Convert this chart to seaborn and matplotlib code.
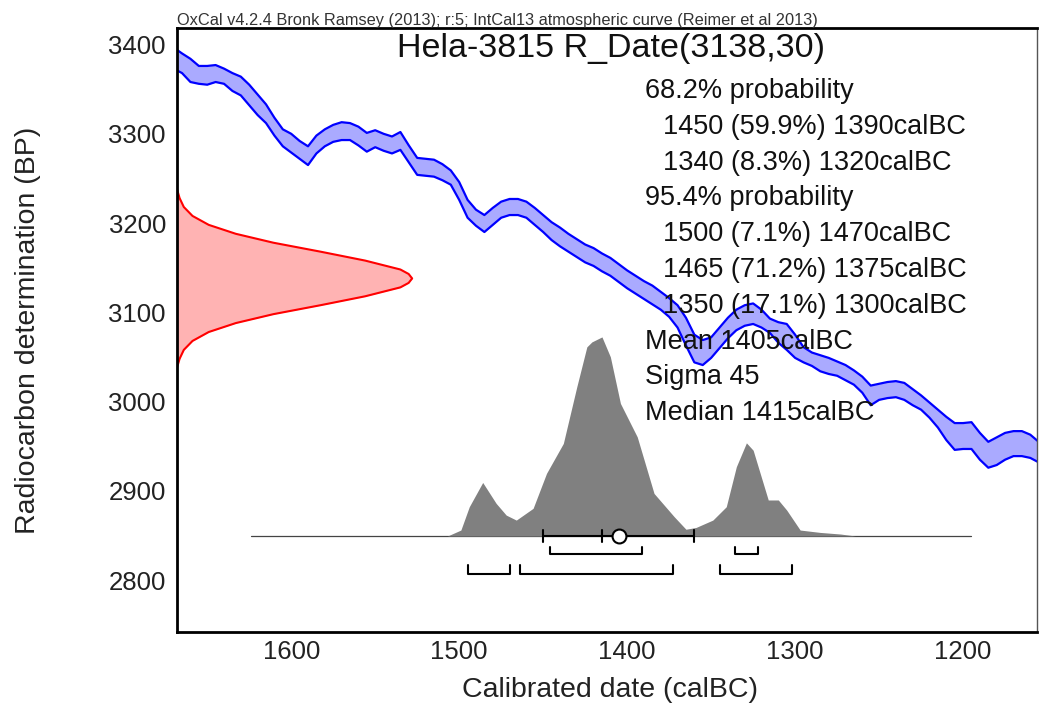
import numpy as np
import pandas as pd
import seaborn as sns
import matplotlib.pyplot as plt
from matplotlib.ticker import MultipleLocator

# calibration curve band (IntCal13)
cal_years = [1668, 1665, 1660, 1655, 1650, 1645, 1640, 1635, 1630, 1625, 1620, 1615, 1610, 1605,
             1600, 1595, 1590, 1585, 1580, 1575, 1570, 1565, 1560, 1555, 1550, 1545, 1540, 1535,
             1530, 1525, 1520, 1515, 1510, 1505, 1500, 1495, 1490, 1485, 1480, 1475, 1470, 1465,
             1460, 1455, 1450, 1445, 1440, 1435, 1430, 1425, 1420, 1415, 1410, 1405, 1400, 1395,
             1390, 1385, 1380, 1375, 1370, 1365, 1360, 1355, 1350, 1345, 1340, 1335, 1330, 1325,
             1320, 1315, 1310, 1305, 1300, 1295, 1290, 1285, 1280, 1275, 1270, 1265, 1260, 1255,
             1250, 1245, 1240, 1235, 1230, 1225, 1220, 1215, 1210, 1205, 1200, 1195, 1190, 1185,
             1180, 1175, 1170, 1165, 1160, 1155]
cal_upper = [3394, 3390, 3384, 3376, 3376, 3377, 3373, 3368, 3364, 3355, 3344, 3333, 3318, 3305,
             3300, 3292, 3286, 3298, 3305, 3310, 3313, 3312, 3308, 3301, 3304, 3300, 3297, 3302,
             3287, 3273, 3272, 3271, 3266, 3259, 3246, 3226, 3215, 3209, 3217, 3224, 3227, 3227,
             3224, 3217, 3209, 3201, 3195, 3188, 3182, 3176, 3172, 3166, 3161, 3154, 3147, 3141,
             3135, 3130, 3123, 3116, 3108, 3094, 3075, 3069, 3072, 3083, 3094, 3103, 3108, 3110,
             3103, 3093, 3089, 3087, 3075, 3061, 3055, 3052, 3049, 3045, 3041, 3035, 3028, 3018,
             3020, 3022, 3023, 3021, 3014, 3007, 2999, 2991, 2983, 2976, 2976, 2977, 2965, 2955,
             2960, 2965, 2967, 2967, 2963, 2955]
cal_lower = [3371, 3368, 3358, 3356, 3355, 3358, 3356, 3348, 3343, 3332, 3321, 3312, 3298, 3286,
             3279, 3272, 3265, 3278, 3286, 3291, 3293, 3293, 3287, 3280, 3285, 3281, 3278, 3282,
             3268, 3254, 3253, 3252, 3248, 3243, 3226, 3206, 3197, 3190, 3198, 3206, 3209, 3209,
             3206, 3198, 3190, 3181, 3174, 3168, 3162, 3156, 3152, 3146, 3141, 3134, 3127, 3121,
             3115, 3109, 3103, 3095, 3083, 3063, 3044, 3041, 3049, 3060, 3071, 3080, 3085, 3087,
             3083, 3077, 3066, 3058, 3049, 3044, 3040, 3034, 3031, 3029, 3024, 3019, 3010, 2996,
             3002, 3004, 3005, 3002, 2996, 2991, 2982, 2971, 2957, 2946, 2947, 2947, 2935, 2926,
             2929, 2935, 2939, 2939, 2937, 2932]

# radiocarbon measurement R_Date(3138,30): BP and relative density
r_bp = [3238, 3228, 3218, 3208, 3198, 3188, 3178, 3168, 3158, 3148, 3143, 3138,
        3133, 3128, 3118, 3108, 3098, 3088, 3078, 3068, 3058, 3048, 3038]
r_dens = [0.0, 0.011, 0.029, 0.066, 0.135, 0.25, 0.41, 0.61, 0.80, 0.95, 0.985, 1.0,
          0.985, 0.95, 0.80, 0.61, 0.41, 0.25, 0.135, 0.066, 0.029, 0.011, 0.0]

# calibrated date distribution (relative probability)
p_years = [1507, 1499, 1494, 1486, 1478, 1472, 1466, 1456, 1448, 1438, 1430, 1424, 1421, 1415,
           1410, 1404, 1394, 1384, 1372, 1365, 1359, 1349, 1341, 1335, 1329, 1325, 1316, 1310,
           1305, 1297, 1285, 1273, 1264]
p_dens = [0.0, 0.03, 0.147, 0.269, 0.164, 0.105, 0.080, 0.139, 0.315, 0.465, 0.749, 0.950, 0.975,
          1.0, 0.90, 0.666, 0.498, 0.214, 0.097, 0.034, 0.043, 0.080, 0.147, 0.348, 0.468, 0.431,
          0.181, 0.181, 0.130, 0.030, 0.018, 0.010, 0.0]
p_span = [1624, 1195]

range68 = [(1446, 1391), (1336, 1322)]
range95 = [(1495, 1470), (1464, 1373), (1345, 1302)]
mean_cal = 1405
sigma_cal = 45
median_cal = 1415

header = "OxCal v4.2.4 Bronk Ramsey (2013); r:5; IntCal13 atmospheric curve (Reimer et al 2013)"
title = "Hela-3815 R_Date(3138,30)"
stat_lines = ["68.2% probability", "1450 (59.9%) 1390calBC", "1340 (8.3%) 1320calBC",
              "95.4% probability", "1500 (7.1%) 1470calBC", "1465 (71.2%) 1375calBC",
              "1350 (17.1%) 1300calBC", "Mean 1405calBC", "Sigma 45", "Median 1415calBC"]
stat_indent = [0, 1, 1, 0, 1, 1, 1, 0, 0, 0]

sns.set_theme(style="white")
plt.rcParams['font.family'] = ['Liberation Sans', 'DejaVu Sans']

W, H = 1043, 722
fig = plt.figure(figsize=(W / 100, H / 100), dpi=100)
ax = fig.add_axes([177 / W, 1 - 632 / H, 860 / W, 604 / H])

XL, XR = 1668, 1156
YB, YT = 2742, 3418.5
BASE = 2849.5     # baseline of the calibrated distribution
PH = 223          # height of its peak (BP units)
RW = 140          # width of the radiocarbon curve (years)

# calibration curve
band = pd.DataFrame({'year': cal_years, 'upper': cal_upper, 'lower': cal_lower})
ax.fill_between(band.year, band.lower, band.upper, color='#aaaaff', lw=0, zorder=1)
sns.lineplot(data=band, x='year', y='upper', color='#0000ff', lw=1.6, ax=ax,
             sort=False, estimator=None, zorder=2)
sns.lineplot(data=band, x='year', y='lower', color='#0000ff', lw=1.6, ax=ax,
             sort=False, estimator=None, zorder=2)

# radiocarbon date
rd = pd.DataFrame({'bp': r_bp, 'x': XL - np.array(r_dens) * RW})
ax.fill_betweenx(rd.bp, XL, rd.x, color='#ffb3b3', lw=0, zorder=1)
sns.lineplot(data=rd, x='x', y='bp', color='#ff0000', lw=1.5, ax=ax,
             sort=False, estimator=None, orient='y', zorder=2)

# calibrated distribution
ax.plot(p_span, [BASE, BASE], color='#444444', lw=0.9, zorder=2)
pd_ = pd.DataFrame({'year': p_years, 'h': BASE + np.array(p_dens) * PH})
ax.fill_between(pd_.year, BASE, pd_.h, color='#808080', lw=0, zorder=3)

# ranges
for rng, top, bot in [(range68, 2837, 2829.5), (range95, 2817, 2806.5)]:
    for a, b in rng:
        ax.plot([a, a, b, b], [top, bot, bot, top], color='black', lw=1.5, zorder=4)

# mean / sigma / median
ax.plot([mean_cal + sigma_cal, mean_cal - sigma_cal], [BASE, BASE], color='black', lw=1.5, zorder=4)
for xv in [mean_cal + sigma_cal, mean_cal - sigma_cal, median_cal]:
    ax.plot([xv, xv], [BASE - 6.5, BASE + 6.5], color='black', lw=1.5, zorder=4)
ax.plot([mean_cal], [BASE], 'o', mfc='white', mec='black', ms=10, mew=1.5, zorder=5)

ax.set_xlim(XL, XR)
ax.set_ylim(YB, YT)
ax.xaxis.set_major_locator(MultipleLocator(100))
ax.xaxis.set_minor_locator(MultipleLocator(10))
ax.yaxis.set_major_locator(MultipleLocator(100))
ax.yaxis.set_minor_locator(MultipleLocator(10))
ax.tick_params(which='major', direction='in', length=10, width=1.5, color='black',
               labelsize=18.5, labelcolor='#222222', top=False, right=False)
ax.tick_params(which='minor', direction='in', length=5, width=1, color='black',
               top=False, right=False)
ax.tick_params(axis='y', which='major', pad=8)
ax.tick_params(axis='x', which='major', pad=6)
for s in ['left', 'bottom', 'top']:
    ax.spines[s].set_linewidth(2)
    ax.spines[s].set_color('black')
ax.spines['right'].set_linewidth(1)
ax.spines['right'].set_color('#555555')

ax.set_xlabel('Calibrated date (calBC)', fontsize=20.5, color='#222222')
ax.set_ylabel('Radiocarbon determination (BP)', fontsize=20.5, color='#222222')
ax.xaxis.label.set_va('center')
ax.yaxis.label.set_va('center')
ax.xaxis.set_label_coords((610 - 177) / 860, (632 - 690) / 604)
ax.yaxis.set_label_coords((28 - 177) / 860, 0.5)

fig.text(177 / W, 1 - 24.5 / H, header, fontsize=11.8, color='#333333', ha='left', va='baseline')
fig.text(397 / W, 1 - 48 / H, title, fontsize=24.5, color='#111111', ha='left', va='center')
for i, (line, ind) in enumerate(zip(stat_lines, stat_indent)):
    x0 = 663 if ind else 645
    fig.text(x0 / W, 1 - (91 + 35.8 * i) / H, line, fontsize=19.5, color='#111111',
             ha='left', va='center', zorder=10)

fig.savefig('out.png', dpi=100)
